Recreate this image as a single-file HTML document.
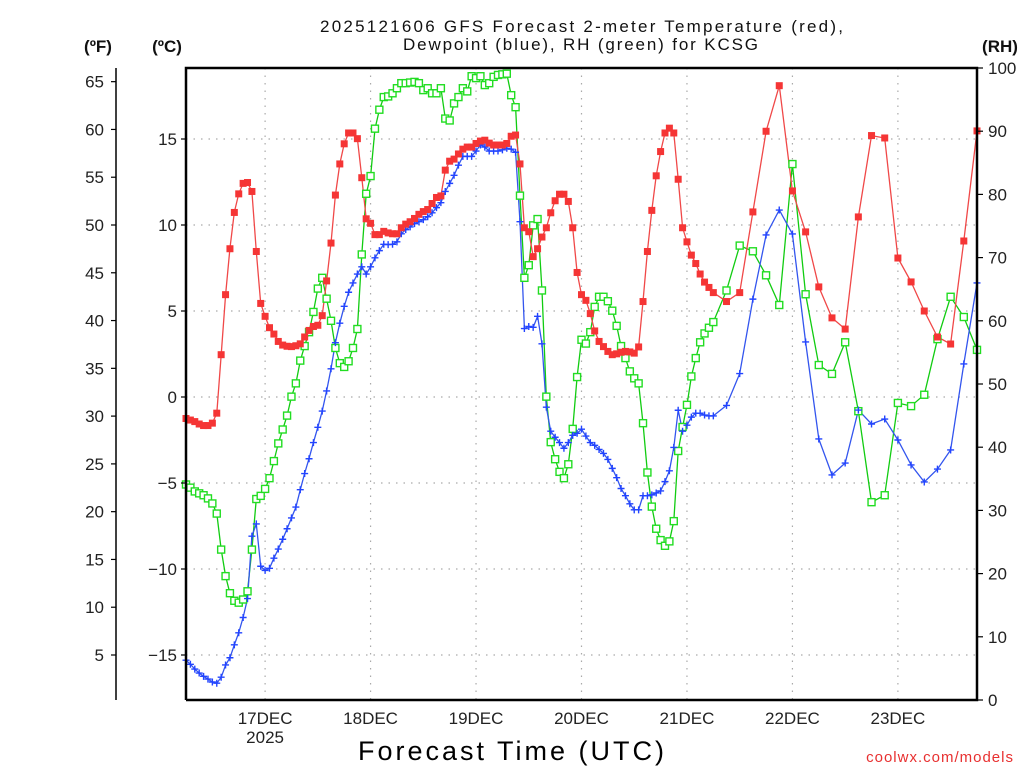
<!DOCTYPE html>
<html><head><meta charset="utf-8"><title>GFS Forecast KCSG</title>
<style>
html,body{margin:0;padding:0;background:#fff;}
svg{display:block;font-family:"Liberation Sans",sans-serif;}
</style></head>
<body>
<svg id="chart" width="1024" height="768" viewBox="0 0 1024 768" xmlns="http://www.w3.org/2000/svg">
<rect x="0" y="0" width="1024" height="768" fill="#fff"/>
<g id="grid"></g>
<g id="series"></g>
<g id="axes"></g>
<text x="320" y="32" font-size="17" textLength="523" lengthAdjust="spacing" fill="#111">2025121606 GFS Forecast 2-meter Temperature (red),</text>
<text x="403" y="50" font-size="17" textLength="355" lengthAdjust="spacing" fill="#111">Dewpoint (blue), RH (green) for KCSG</text>
<text x="98" y="52" font-size="17" font-weight="bold" text-anchor="middle" fill="#111">(ºF)</text>
<text x="167" y="52" font-size="17" font-weight="bold" text-anchor="middle" fill="#111">(ºC)</text>
<text x="1000" y="52" font-size="17" font-weight="bold" text-anchor="middle" fill="#111">(RH)</text>
<text x="358" y="760" font-size="27" textLength="306" lengthAdjust="spacing" fill="#000">Forecast Time (UTC)</text>
<text x="1014" y="762" font-size="15" text-anchor="end" fill="#e83030" letter-spacing="1">coolwx.com/models</text>
</svg>
<script>
// ---- data (forecast hour, value) ----
const tempHours = [0,1,2,3,4,5,6,7,8,9,10,11,12,13,14,15,16,17,18,19,20,21,22,23,24,25,26,27,28,29,30,31,32,33,34,35,36,37,38,39,40,41,42,43,44,45,46,47,48,49,50,51,52,53,54,55,56,57,58,59,60,61,62,63,64,65,66,67,68,69,70,71,72,73,74,75,76,77,78,79,80,81,82,83,84,85,86,87,88,89,90,91,92,93,94,95,96,97,98,99,100,101,102,103,104,105,106,107,108,109,110,111,112,113,114,115,116,117,118,119,120,123,126,129,132,135,138,141,144,147,150,153,156,159,162,165,168,171,174,177,180];
const tempC = [-1.25,-1.34,-1.43,-1.57,-1.66,-1.66,-1.52,-0.94,2.46,5.95,8.62,10.73,11.81,12.42,12.47,11.95,8.46,5.44,4.69,4.03,3.66,3.23,3.02,2.95,2.93,2.98,3.09,3.49,3.87,4.10,4.17,4.73,6.75,8.95,11.74,13.55,14.72,15.35,15.35,15.02,12.75,10.36,10.10,9.44,9.44,9.63,9.54,9.49,9.49,9.84,10.05,10.19,10.38,10.62,10.78,10.90,11.25,11.60,11.69,13.19,13.71,13.83,14.13,14.41,14.53,14.53,14.74,14.88,14.93,14.76,14.65,14.65,14.65,14.74,15.16,15.23,13.55,9.84,9.61,8.16,8.62,9.30,9.84,10.71,11.41,11.79,11.79,11.37,9.84,7.24,5.95,5.62,4.85,3.84,3.23,2.93,2.65,2.46,2.51,2.60,2.65,2.62,2.55,2.91,5.55,8.46,10.85,12.86,14.27,15.35,15.63,15.35,12.66,9.84,9.02,8.25,7.76,7.15,6.68,6.37,6.07,5.55,6.07,10.76,15.45,18.1,11.98,9.6,6.4,4.6,3.95,10.47,15.2,15.06,8.08,6.69,5.0,3.49,3.08,9.07,15.47];
const dewHours = [0,1,2,3,4,5,6,7,8,9,10,11,12,13,14,15,16,17,18,19,20,21,22,23,24,25,26,27,28,29,30,31,32,33,34,35,36,37,38,39,40,41,42,43,44,45,46,47,48,49,50,51,52,53,54,55,56,57,58,59,60,61,62,63,64,65,66,67,68,69,70,71,72,73,74,75,76,77,78,79,80,81,82,83,84,85,86,87,88,89,90,91,92,93,94,95,96,97,98,99,100,101,102,103,104,105,106,107,108,109,110,111,112,113,114,115,116,117,118,119,120,123,126,129,132,135,138,141,144,147,150,153,156,159,162,165,168,171,174,177,180];
const dewC = [-15.30,-15.54,-15.82,-16.05,-16.24,-16.40,-16.57,-16.64,-16.29,-15.58,-15.16,-14.41,-13.71,-12.82,-11.72,-8.09,-7.38,-9.84,-10.08,-9.96,-9.37,-8.84,-8.27,-7.66,-7.03,-6.40,-5.39,-4.45,-3.59,-2.65,-1.76,-0.82,0.35,1.64,3.16,4.29,5.27,6.09,6.63,7.15,7.57,7.15,7.57,8.09,8.51,8.88,8.86,8.88,9.02,9.49,9.73,9.89,10.08,10.19,10.31,10.48,10.71,11.01,11.30,11.95,12.42,12.89,13.48,13.99,13.99,13.99,14.30,14.65,14.53,14.30,14.30,14.30,14.37,14.46,14.41,14.23,10.19,3.98,4.10,4.05,4.69,3.09,-0.59,-1.99,-2.34,-2.65,-2.98,-2.65,-2.23,-2.11,-1.87,-2.27,-2.65,-2.81,-3.05,-3.28,-3.63,-4.15,-4.69,-5.32,-5.74,-6.21,-6.56,-6.56,-5.74,-5.74,-5.69,-5.58,-5.46,-4.92,-4.29,-2.93,-0.77,-1.99,-1.64,-1.17,-0.94,-0.94,-1.05,-1.10,-1.10,-0.49,1.36,5.69,9.42,10.87,9.48,3.2,-2.44,-4.53,-3.84,-0.76,-1.57,-1.28,-2.5,-3.95,-4.94,-4.19,-3.08,1.92,6.63];
const rhHours = [0,1,2,3,4,5,6,7,8,9,10,11,12,13,14,15,16,17,18,19,20,21,22,23,24,25,26,27,28,29,30,31,32,33,34,35,36,37,38,39,40,41,42,43,44,45,46,47,48,49,50,51,52,53,54,55,56,57,58,59,60,61,62,63,64,65,66,67,68,69,70,71,72,73,74,75,76,77,78,79,80,81,82,83,84,85,86,87,88,89,90,91,92,93,94,95,96,97,98,99,100,101,102,103,104,105,106,107,108,109,110,111,112,113,114,115,116,117,118,119,120,123,126,129,132,135,138,141,144,147,150,153,156,159,162,165,168,171,174,177,180];
const rhPct = [34.1,33.6,33.0,32.7,32.4,31.9,31.1,29.5,23.8,19.6,16.9,15.7,15.4,15.9,17.2,23.8,31.8,32.3,33.4,35.1,37.8,40.6,42.8,45.0,48.0,50.1,53.7,56.0,58.2,61.4,65.1,66.8,63.5,60.0,55.7,53.3,52.7,53.6,55.7,58.7,70.5,80.1,82.9,90.4,93.4,95.4,95.5,96.0,96.8,97.6,97.6,97.7,97.8,97.6,96.5,96.8,96.0,96.0,96.8,92.0,91.7,94.4,95.4,96.8,96.3,98.7,98.4,98.7,97.3,97.6,98.6,98.9,99.0,99.1,95.7,93.8,79.8,66.8,68.8,75.1,76.1,64.8,48.0,40.8,38.1,36.1,35.1,37.3,42.9,51.1,57.0,56.4,58.2,62.2,63.8,63.8,63.1,61.6,59.2,56.0,54.1,52.0,50.9,50.1,43.8,36.0,30.6,27.1,25.3,24.4,25.1,28.3,39.4,43.2,46.7,51.2,54.1,56.6,58.0,58.9,59.8,64.8,71.9,71.0,67.2,62.5,84.8,64.2,53.0,51.6,56.6,45.7,31.3,32.4,47.0,46.5,48.3,57.1,63.8,60.6,55.4];
const fTicks = [5,10,15,20,25,30,35,40,45,50,55,60,65];
const cTicks = [-15,-10,-5,0,5,10,15];
const rhTicks = [0,10,20,30,40,50,60,70,80,90,100];
const dayHours = [18,42,66,90,114,138,162];
const dayLabels = ["17DEC","18DEC","19DEC","20DEC","21DEC","22DEC","23DEC"];

// ---- layout ----
const L=186, R=977, T=68, B=700;
const xOf = h => L + h*(R-L)/180;
const yC = c => 397 - c*17.2;
const yF = f => yC((f-32)*5/9);
const yRH = r => B - r*(B-T)/100;
const NS="http://www.w3.org/2000/svg";
function mk(tag, attrs, parent){const e=document.createElementNS(NS,tag);for(const k in attrs)e.setAttribute(k,attrs[k]);parent.appendChild(e);return e;}
const grid=document.getElementById('grid'), series=document.getElementById('series'), axes=document.getElementById('axes');

cTicks.forEach(c=>{const l=mk('line',{x1:L,x2:R,y1:yC(c),y2:yC(c),stroke:'#aaa','stroke-width':1.2,'stroke-dasharray':'1.5,6'},grid);

});
dayHours.forEach(h=>{const l=mk('line',{x1:xOf(h),x2:xOf(h),y1:T,y2:B,stroke:'#aaa','stroke-width':1.2,'stroke-dasharray':'1.5,6'},grid);

});

function line(hours, vals, yf, color, name){
  const pts=hours.map((h,i)=>xOf(h).toFixed(1)+','+yf(vals[i]).toFixed(1)).join(' ');
  const p=mk('polyline',{points:pts,fill:'none',stroke:color,'stroke-width':1.3},series);
  
  
}
line(rhHours,rhPct,yRH,'#11cc11','rh-line');
line(dewHours,dewC,yC,'#3355ee','dewpoint-line');
line(tempHours,tempC,yC,'#f04848','temperature-line');
rhHours.forEach((h,i)=>{const r=mk('rect',{x:xOf(h)-3.5,y:yRH(rhPct[i])-3.5,width:7,height:7,fill:'#fff',stroke:'#22dd22','stroke-width':1.4},series);

});
dewHours.forEach((h,i)=>{const x=xOf(h),y=yC(dewC[i]);const p=mk('path',{d:`M${x-3.5},${y}H${x+3.5}M${x},${y-3.5}V${y+3.5}`,stroke:'#2244ff','stroke-width':1.4,fill:'none'},series);

});
tempHours.forEach((h,i)=>{const r=mk('rect',{x:xOf(h)-3.5,y:yC(tempC[i])-3.5,width:7,height:7,fill:'#f53535'},series);

});

const frame=mk('path',{d:`M${L},${B}V${T}H${R}V${B}H${L}`,fill:'none',stroke:'#000','stroke-width':2.5},axes);


const fl=mk('line',{x1:116,x2:116,y1:68,y2:700,stroke:'#000','stroke-width':1.5},axes);


fTicks.forEach(f=>{const y=yF(f);
  const t=mk('line',{x1:111,x2:116,y1:y,y2:y,stroke:'#000','stroke-width':1.2},axes);
  
  
  const tx=mk('text',{x:104,y:y+6,'font-size':17,'text-anchor':'end',fill:'#222'},axes);tx.textContent=f;
  
  });
cTicks.forEach(c=>{const y=yC(c);
  const t=mk('line',{x1:181,x2:186,y1:y,y2:y,stroke:'#000','stroke-width':1.2},axes);
  
  
  const tx=mk('text',{x:177,y:y+6,'font-size':17,'text-anchor':'end',fill:'#222'},axes);tx.textContent=c<0?'\u2212'+(-c):c;
  
  });
rhTicks.forEach(r=>{const y=yRH(r);
  const t=mk('line',{x1:977,x2:983,y1:y,y2:y,stroke:'#000','stroke-width':1.2},axes);
  
  
  const tx=mk('text',{x:988,y:y+6,'font-size':17,fill:'#222'},axes);tx.textContent=r;
  
  });
dayHours.forEach((h,i)=>{
  const tx=mk('text',{x:xOf(h),y:724,'font-size':17,'text-anchor':'middle',fill:'#222'},axes);tx.textContent=dayLabels[i];
  
  });
const yr=mk('text',{x:xOf(18),y:743,'font-size':17,'text-anchor':'middle',fill:'#222'},axes);yr.textContent='2025';


</script>
</body></html>
